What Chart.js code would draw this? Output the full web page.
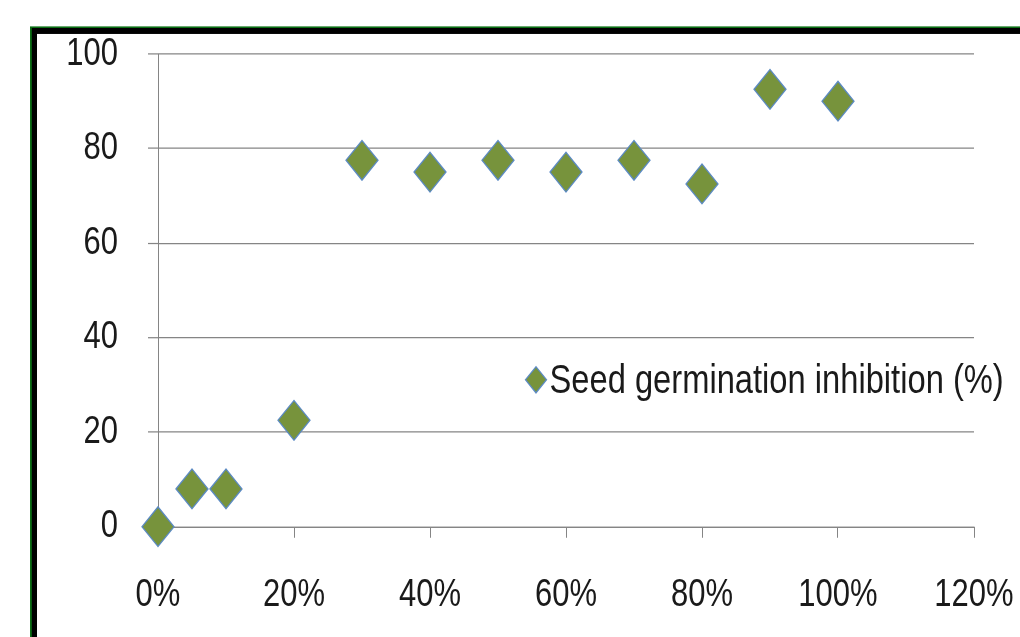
<!DOCTYPE html>
<html><head><meta charset="utf-8">
<script src="https://cdn.jsdelivr.net/npm/chart.js@4/dist/chart.umd.min.js"></script>
<style>
html,body{margin:0;padding:0;background:#fff;}
canvas{display:block;}
</style></head><body>
<canvas id="c" width="1020" height="637"></canvas>
<script>
// Data
const doseFraction = [0, 0.05, 0.10, 0.20, 0.30, 0.40, 0.50, 0.60, 0.70, 0.80, 0.90, 1.00];
const inhibition   = [0, 8, 8, 22.5, 77.5, 75, 77.5, 75, 77.5, 72.5, 92.5, 90];
const seriesLabel  = 'Seed germination inhibition (%)';
const xAxisMin = 0, xAxisMax = 1.2, xAxisStep = 0.2;
const yAxisMin = 0, yAxisMax = 100, yAxisStep = 20;

const FONT = '"Liberation Sans", Arial, sans-serif';
const GRID = '#858585';
const MARK_FILL = '#77933C';
const MARK_EDGE = 'rgba(88,136,196,0.95)';
const STRETCH = 1.2393;   // the reference image is vertically stretched

const stretchPlugin = {
  id: 'stretch',
  beforeDraw(chart) { chart.ctx.save(); chart.ctx.scale(1, STRETCH); },
  afterDraw(chart) { chart.ctx.restore(); }
};

const framePlugin = {
  id: 'frame',
  beforeDraw(chart) {
    const ctx = chart.ctx;
    ctx.save();
    ctx.fillStyle = '#0b6e14';
    ctx.fillRect(30, 21.3, 3000, 3000);
    ctx.fillStyle = '#000';
    ctx.fillRect(31.8, 22.6, 3000, 3000);
    ctx.fillStyle = '#fff';
    ctx.fillRect(37, 27.4, 3000, 3000);
    ctx.restore();
  }
};

const legendPlugin = {
  id: 'insideLegend',
  afterDatasetsDraw(chart) {
    const ctx = chart.ctx;
    const ds = chart.data.datasets[0];
    ctx.save();
    ctx.fillStyle = ds.backgroundColor;
    ctx.strokeStyle = ds.borderColor;
    ctx.lineWidth = 1.2;
    Chart.helpers.drawPoint(ctx, {pointStyle: 'rectRot', radius: 10.5, rotation: 0, borderWidth: 1.2}, 536, 306.5);
    ctx.fillStyle = '#1a1a1a';
    ctx.font = '32.7px ' + FONT;
    ctx.textBaseline = 'alphabetic';
    ctx.textAlign = 'left';
    ctx.fillText(ds.label, 549.5, 317);
    ctx.restore();
  }
};

new Chart(document.getElementById('c'), {
  type: 'scatter',
  data: {
    datasets: [{
      label: seriesLabel,
      data: doseFraction.map((x, i) => ({x: x, y: inhibition[i]})),
      pointStyle: 'rectRot',
      pointRadius: 16,
      pointHoverRadius: 16,
      backgroundColor: MARK_FILL,
      borderColor: MARK_EDGE,
      borderWidth: 1.2,
      clip: false
    }]
  },
  options: {
    responsive: false,
    animation: false,
    events: [],
    layout: {padding: {left: 0, right: 46, top: 43.5, bottom: 142}},
    plugins: {legend: {display: false}, tooltip: {enabled: false}},
    scales: {
      x: {
        type: 'linear',
        min: xAxisMin, max: xAxisMax,
        afterFit(s) { s.height = 70; s.paddingLeft = 0; s.paddingRight = 0; },
        grid: {drawOnChartArea: false, drawTicks: true, tickLength: 9, color: GRID, lineWidth: 1},
        border: {display: true, color: GRID, width: 1},
        ticks: {
          stepSize: xAxisStep,
          maxRotation: 0, autoSkip: false,
          padding: 27.5,
          color: '#1a1a1a',
          font: {family: FONT, size: 31},
          callback: v => Math.round(v * 100) + '%'
        }
      },
      y: {
        min: yAxisMin, max: yAxisMax,
        afterFit(s) { s.width = 158; s.paddingTop = 0; s.paddingBottom = 0; },
        grid: {drawTicks: true, tickLength: 10, color: GRID, lineWidth: 1},
        border: {display: true, color: GRID, width: 1},
        ticks: {
          stepSize: yAxisStep,
          padding: 30,
          color: '#1a1a1a',
          font: {family: FONT, size: 31}
        }
      }
    }
  },
  plugins: [stretchPlugin, framePlugin, legendPlugin]
});
</script>
</body></html>
